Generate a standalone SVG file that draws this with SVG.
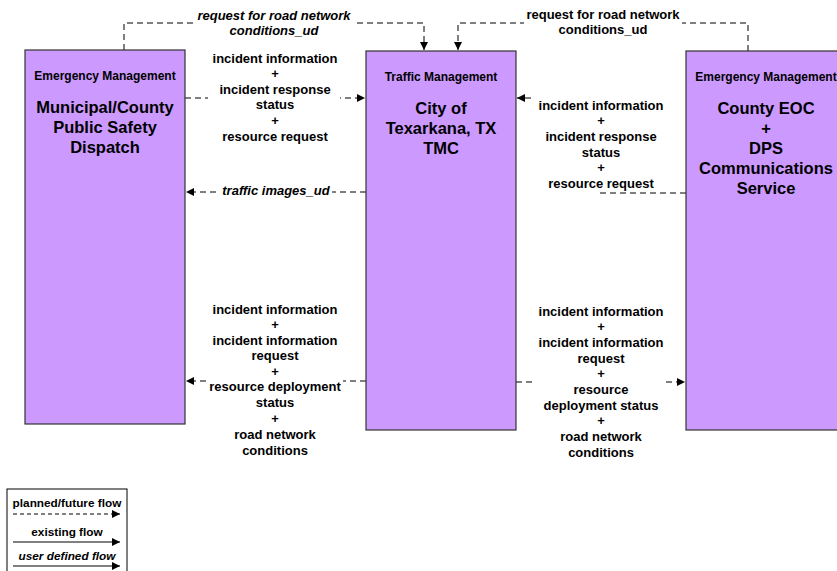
<svg xmlns="http://www.w3.org/2000/svg" width="837" height="571" viewBox="0 0 837 571">
<defs>
<marker id="arr" viewBox="0 0 10 10" refX="10" refY="5" markerWidth="8" markerHeight="8" markerUnits="userSpaceOnUse" orient="auto">
<path d="M0,0 L10,5 L0,10 z" fill="#000"/>
</marker>
</defs>
<style>
.node{fill:#CC99FF;stroke:#333;stroke-width:1.2}
.hdr{font-family:"Liberation Sans",Arial,sans-serif;font-weight:bold;font-size:12px;text-anchor:middle;fill:#000}
.ttl{font-family:"Liberation Sans",Arial,sans-serif;font-weight:bold;font-size:16.5px;text-anchor:middle;fill:#000}
.lbl{font-family:"Liberation Sans",Arial,sans-serif;font-weight:bold;font-size:13px;text-anchor:middle;fill:#000}
.bg{fill:#fff;stroke:none}
.it{font-style:italic}
.dash{fill:none;stroke:#000;stroke-width:1;stroke-dasharray:6,4}
.solid{fill:none;stroke:#000;stroke-width:1}
.leg{font-family:"Liberation Sans",Arial,sans-serif;font-weight:bold;font-size:11.8px;text-anchor:middle;fill:#000}
</style>
<rect width="837" height="571" fill="#fff"/>
<g id="connectors">
<path class="dash" d="M124,50 V23 H424 V50" marker-end="url(#arr)"/>
<path class="dash" d="M748,51 V23 H458 V50" marker-end="url(#arr)"/>
<path class="dash" d="M185,98 H365" marker-end="url(#arr)"/>
<path class="dash" d="M366,192 H186" marker-end="url(#arr)"/>
<path class="dash" d="M686,193 H600 V98 H517" marker-end="url(#arr)"/>
<path class="dash" d="M366,381 H186" marker-end="url(#arr)"/>
<path class="dash" d="M516,382 H685" marker-end="url(#arr)"/>
</g>
<g id="labels">
<rect class="bg" x="194" y="6" width="160" height="32"/>
<text class="lbl it" x="274" y="20">request for road network</text>
<text class="lbl it" x="274" y="35">conditions_ud</text>
<rect class="bg" x="524" y="5" width="158" height="32"/>
<text class="lbl" x="603" y="19">request for road network</text>
<text class="lbl" x="603" y="34">conditions_ud</text>
<rect class="bg" x="208" y="50" width="132" height="94"/>
<text class="lbl" x="275" y="63">incident information</text>
<text class="lbl" x="275" y="78">+</text>
<text class="lbl" x="275" y="94">incident response</text>
<text class="lbl" x="275" y="109">status</text>
<text class="lbl" x="275" y="125">+</text>
<text class="lbl" x="275" y="141">resource request</text>
<rect class="bg" x="220" y="183" width="112" height="16"/>
<text class="lbl it" x="276" y="195">traffic images_ud</text>
<rect class="bg" x="535" y="97" width="132" height="93"/>
<text class="lbl" x="601" y="110">incident information</text>
<text class="lbl" x="601" y="125">+</text>
<text class="lbl" x="601" y="141">incident response</text>
<text class="lbl" x="601" y="157">status</text>
<text class="lbl" x="601" y="172">+</text>
<text class="lbl" x="601" y="188">resource request</text>
<rect class="bg" x="207" y="301" width="136" height="157"/>
<text class="lbl" x="275" y="314">incident information</text>
<text class="lbl" x="275" y="329">+</text>
<text class="lbl" x="275" y="345">incident information</text>
<text class="lbl" x="275" y="360">request</text>
<text class="lbl" x="275" y="376">+</text>
<text class="lbl" x="275" y="391">resource deployment</text>
<text class="lbl" x="275" y="407">status</text>
<text class="lbl" x="275" y="423">+</text>
<text class="lbl" x="275" y="439">road network</text>
<text class="lbl" x="275" y="455">conditions</text>
<rect class="bg" x="536" y="303" width="130" height="157"/>
<text class="lbl" x="601" y="316">incident information</text>
<text class="lbl" x="601" y="331">+</text>
<text class="lbl" x="601" y="347">incident information</text>
<text class="lbl" x="601" y="363">request</text>
<text class="lbl" x="601" y="378">+</text>
<text class="lbl" x="601" y="394">resource</text>
<text class="lbl" x="601" y="410">deployment status</text>
<text class="lbl" x="601" y="425">+</text>
<text class="lbl" x="601" y="441">road network</text>
<text class="lbl" x="601" y="457">conditions</text>
</g>
<g id="node-dispatch">
<rect class="node" x="25" y="50" width="160" height="374"/>
<text class="hdr" x="105" y="80">Emergency Management</text>
<text class="ttl" x="105" y="113">Municipal/County</text>
<text class="ttl" x="105" y="133">Public Safety</text>
<text class="ttl" x="105" y="153">Dispatch</text>
</g>
<g id="node-tmc">
<rect class="node" x="366" y="51" width="150" height="379"/>
<text class="hdr" x="441" y="81">Traffic Management</text>
<text class="ttl" x="441" y="114">City of</text>
<text class="ttl" x="441" y="134">Texarkana, TX</text>
<text class="ttl" x="441" y="154">TMC</text>
</g>
<g id="node-eoc">
<rect class="node" x="686" y="51" width="160" height="379"/>
<text class="hdr" x="766" y="81">Emergency Management</text>
<text class="ttl" x="766" y="114">County EOC</text>
<text class="ttl" x="766" y="134">+</text>
<text class="ttl" x="766" y="154">DPS</text>
<text class="ttl" x="766" y="174">Communications</text>
<text class="ttl" x="766" y="194">Service</text>
</g>
<g id="legend">
<rect x="7" y="489" width="120" height="90" fill="#fff" stroke="#000" stroke-width="1"/>
<text class="leg" x="67" y="507">planned/future flow</text>
<path d="M13,514 H120" fill="none" stroke="#000" stroke-dasharray="4,3" marker-end="url(#arr)"/>
<text class="leg" x="67" y="536">existing flow</text>
<path class="solid" d="M13,542 H120" marker-end="url(#arr)"/>
<text class="leg it" x="67" y="560">user defined flow</text>
<path class="solid" d="M13,566 H120" marker-end="url(#arr)"/>
</g>
</svg>
